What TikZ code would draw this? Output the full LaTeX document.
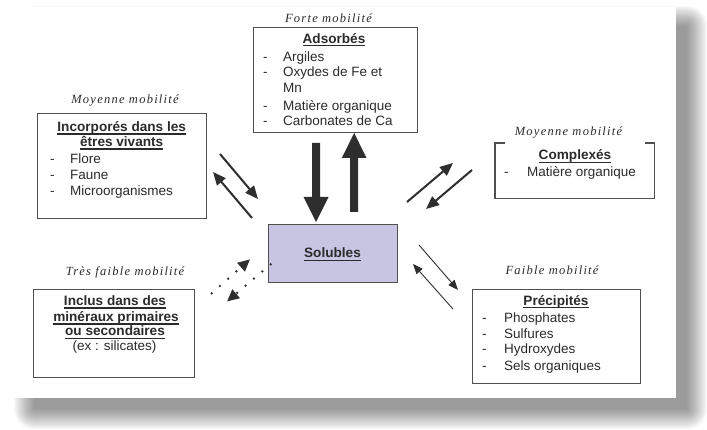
\documentclass[tikz,border=0pt]{standalone}
\usepackage{fontspec}
\setmainfont{Liberation Sans}
\newfontfamily\labfont[LetterSpace=10]{Liberation Serif}
\newsavebox\ulbox
\newcommand{\myul}[1]{\leavevmode\sbox\ulbox{#1}\rlap{\vrule width\wd\ulbox height -1.7pt depth 3pt}\usebox\ulbox}
\usetikzlibrary{arrows.meta}
\definecolor{txt}{HTML}{2B2B2B}
\definecolor{boxc}{HTML}{505050}
\definecolor{arr}{HTML}{2E2E2E}
\definecolor{lav}{RGB}{199,197,226}
\tikzset{
  box/.style={draw=boxc, line width=1.2pt, inner sep=0pt, anchor=north west},
  lab/.style={font=\labfont\itshape\fontsize{12.5}{14}\selectfont, text=txt, anchor=base, inner sep=0pt},
  hd/.style={font=\bfseries\fontsize{13.6}{15}\selectfont, text=txt, anchor=base, inner sep=0pt},
  itm/.style={font=\fontsize{13.5}{15}\selectfont, text=txt, anchor=base west, inner sep=0pt},
  ctr/.style={font=\fontsize{13.5}{15}\selectfont, text=txt, anchor=base, inner sep=0pt},
  med/.style={draw=arr, line width=2pt, -{Triangle[length=13pt,width=11pt]}},
  thinar/.style={draw=arr, line width=0.9pt, -{Triangle[length=10pt,width=8pt]}},
  dotar/.style={draw=arr, line width=2.6pt, dash pattern=on 0pt off 11pt, line cap=round, -{Triangle[length=12pt,width=11pt]}},
}
\begin{document}
\begin{tikzpicture}[x=1pt,y=-1pt]
\useasboundingbox (0,0) rectangle (707,430);
% shadow
\foreach \e in {0,1,...,20}{
  \fill[black,opacity=0.024,rounded corners=\e pt] (34-\e,26-\e) rectangle (687+\e,409+\e);
}
% page
\fill[white] (9,7) rectangle (676,398);

% ---------- Adsorbes ----------
\node[lab] (lforte) at (328.5,22.7) {Forte mobilité};
\node[box, minimum width=164pt, minimum height=105pt] (ads) at (253,27) {};
\node[hd] (adsh) at (334,43.3) {\myul{Adsorbés}};
\foreach \yy/\t/\d in {61.7/Argiles/-, 76.7/Oxydes de Fe et/-, 93/Mn/, 110.7/Matière organique/-, 126/Carbonates de Ca/-}{
  \node[itm] at (263,\yy) {\d};
  \node[itm] at (283,\yy) {\t};
}

% ---------- Incorpores ----------
\node[lab] (lmoy1) at (125,103.3) {Moyenne mobilité};
\node[box, minimum width=169pt, minimum height=105pt] (inc) at (37,113) {};
\node[hd] (inch1) at (121.7,131.7) {\myul{Incorporés dans les}};
\node[hd] (inch2) at (121.7,146.7) {\myul{êtres vivants}};
\foreach \yy/\t in {164/Flore, 180/Faune, 196/Microorganismes}{
  \node[itm] at (50,\yy) {-};
  \node[itm] at (70,\yy) {\t};
}

% ---------- Complexes ----------
\node[lab] (lmoy2) at (568.5,136) {Moyenne mobilité};
\node[inner sep=0pt, anchor=north west, minimum width=159pt, minimum height=55pt] (cpx) at (495,143) {};
\draw[boxc, line width=1.2pt] ([xshift=10pt]cpx.north west) -- (cpx.north west) -- (cpx.south west) -- (cpx.south east) -- (cpx.north east) -- ([xshift=-9pt]cpx.north east);
\node[hd] (cpxh) at (575,160) {\myul{Complexés}};
\node[itm] at (504,176.7) {-};
\node[itm] at (527,176.7) {Matière organique};

% ---------- Solubles ----------
\node[box, fill=lav, draw=boxc, minimum width=129pt, minimum height=58pt] (sol) at (268,224) {};
\node[hd] (solh) at (332.5,258) {\myul{Solubles}};

% ---------- Precipites ----------
\node[lab] (lfaib) at (552,275) {Faible mobilité};
\node[box, minimum width=168pt, minimum height=94pt] (pre) at (472,289) {};
\node[hd] (preh) at (556,305.3) {\myul{Précipités}};
\foreach \yy/\t in {323/Phosphates, 338.7/Sulfures, 353.3/Hydroxydes, 370.7/Sels organiques}{
  \node[itm] at (482,\yy) {-};
  \node[itm] at (504,\yy) {\t};
}

% ---------- Inclus ----------
\node[lab] (ltres) at (125,276) {Très faible mobilité};
\node[box, minimum width=161pt, minimum height=88pt] (incl) at (33,289) {};
\node[hd] (inclh1) at (115,305.7) {\myul{Inclus dans des}};
\node[hd] (inclh2) at (116,321.7) {\myul{minéraux primaires}};
\node[hd] (inclh3) at (115,336) {\myul{ou secondaires}};
\node[ctr] (inclh4) at (114.5,350.5) {(ex : silicates)};

% ---------- big arrows ----------
\fill[arr] (312,143) -- (320,143) -- (320,197) -- (328.5,197) -- (316,222) -- (303.5,197) -- (312,197) -- cycle;
\fill[arr] (350,212) -- (358,212) -- (358,158) -- (366.5,158) -- (354.2,133) -- (341.8,158) -- (350,158) -- cycle;

% ---------- medium arrows ----------
\coordinate (a1s) at (220,154);  \coordinate (a1e) at (258,199);
\coordinate (a2s) at (252,218);  \coordinate (a2e) at (213,172);
\draw[med] (a1s) -- (a1e);
\draw[med] (a2s) -- (a2e);
\coordinate (b1s) at (407,202);  \coordinate (b1e) at (453,163);
\coordinate (b2s) at (472,170);  \coordinate (b2e) at (426,209);
\draw[med] (b1s) -- (b1e);
\draw[med] (b2s) -- (b2e);

% ---------- thin arrows ----------
\coordinate (c1s) at (419,245);  \coordinate (c1e) at (458,290);
\coordinate (c2s) at (453,309);  \coordinate (c2e) at (413,264);
\draw[thinar] (c1s) -- (c1e);
\draw[thinar] (c2s) -- (c2e);

% ---------- dotted arrows ----------
\coordinate (d1s) at (211.7,293.3);  \coordinate (d1e) at (250,259.3);
\coordinate (d2s) at (270.7,264.3);  \coordinate (d2e) at (227,301.5);
\draw[dotar] (d1s) -- (d1e);
\draw[dotar] (d2s) -- (d2e);
\end{tikzpicture}
\end{document}
